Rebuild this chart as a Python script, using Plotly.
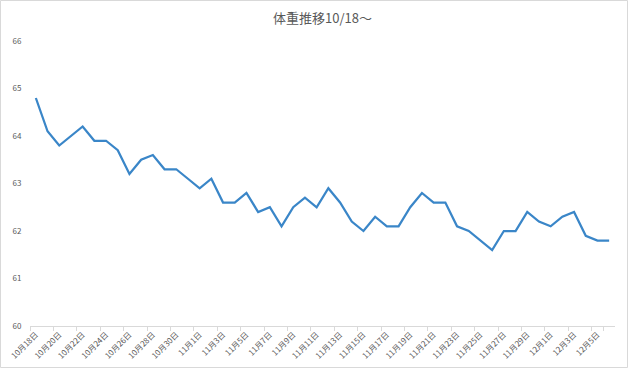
import plotly.graph_objects as go

# Dates (categories): 10/18 .. 12/6
dates = ([f"10月{d}日" for d in range(18, 32)] +
         [f"11月{d}日" for d in range(1, 31)] +
         [f"12月{d}日" for d in range(1, 7)])

weights = [64.8, 64.1, 63.8, 64.0, 64.2, 63.9, 63.9, 63.7, 63.2, 63.5,
           63.6, 63.3, 63.3, 63.1, 62.9, 63.1, 62.6, 62.6, 62.8, 62.4,
           62.5, 62.1, 62.5, 62.7, 62.5, 62.9, 62.6, 62.2, 62.0, 62.3,
           62.1, 62.1, 62.5, 62.8, 62.6, 62.6, 62.1, 62.0, 61.8, 61.6,
           62.0, 62.0, 62.4, 62.2, 62.1, 62.3, 62.4, 61.9, 61.8, 61.8]

title_text = "体重推移10/18～"
y_ticks = [60, 61, 62, 63, 64, 65, 66]

W, H = 630, 370
L, R, T, B = 30, 15, 41, 44

font_family = "Noto Sans CJK JP"
grey = "#595959"

fig = go.Figure()
fig.add_trace(go.Scatter(
    x=dates, y=weights, mode="lines",
    line=dict(color="#3A86C8", width=2.25),
    hoverinfo="x+y",
))

fig.update_layout(
    width=W, height=H,
    margin=dict(l=L, r=R, t=T, b=B, autoexpand=False),
    paper_bgcolor="white", plot_bgcolor="white",
    showlegend=False,
    title=dict(text=title_text, x=0.5, xanchor="center",
               xref="paper", yref="container", y=1 - 18 / H,
               yanchor="middle",
               font=dict(family=font_family, size=13, color=grey)),
    font=dict(family=font_family, color=grey),
    xaxis=dict(
        type="category",
        automargin=False,
        range=[-0.5, len(dates) - 0.5],
        tickmode="array",
        tickvals=dates[::2],
        ticktext=dates[::2],
        tickson="boundaries",
        ticks="outside", ticklen=4, tickcolor="#D9D9D9",
        tickangle=-45,
        tickfont=dict(size=8, color=grey),
        showline=True, linecolor="#D9D9D9", linewidth=1,
        showgrid=False, zeroline=False,
    ),
    yaxis=dict(
        automargin=False,
        range=[60, 66],
        tickvals=y_ticks,
        ticks="outside", ticklen=6, tickcolor="rgba(0,0,0,0)",
        tickfont=dict(size=8, color=grey),
        showline=False, showgrid=False, zeroline=False,
    ),
)

# Chart-area border
pw = W - L - R
ph = H - T - B
fig.add_shape(type="rect", xref="paper", yref="paper",
              x0=(-L + 0.5) / pw, x1=1 + (R - 2.5) / pw,
              y0=(-B + 2.5) / ph, y1=1 + (T - 0.5) / ph,
              line=dict(color="#D9D9D9", width=1), layer="above")

fig.write_html(
    "out.html",
    config={"displayModeBar": False},
    post_script="document.body.style.margin='0';document.body.style.padding='0';",
)
